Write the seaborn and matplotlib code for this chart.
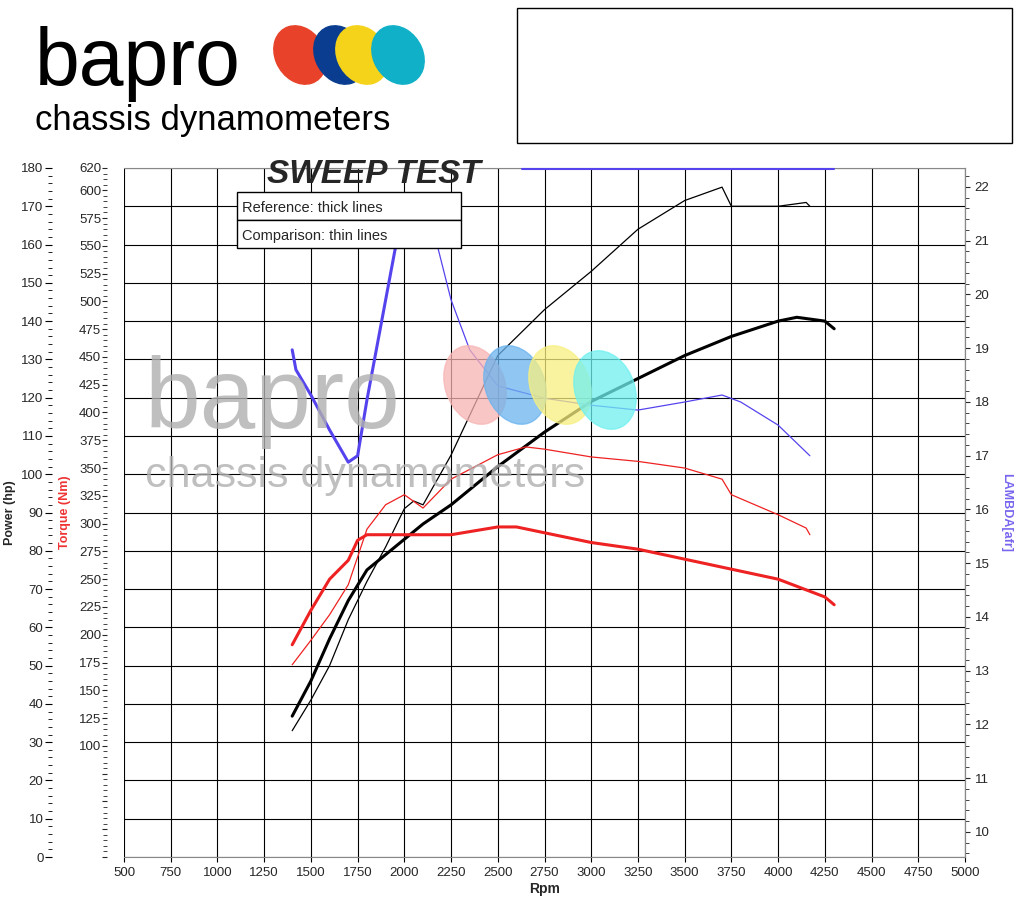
import pandas as pd
import seaborn as sns
import matplotlib.pyplot as plt
from matplotlib.ticker import MultipleLocator, FixedLocator
from matplotlib.patches import Ellipse, Rectangle

# thick = reference, thin = comparison
rpm_pw_ref = [1400, 1500, 1600, 1700, 1800, 1900, 2000, 2100, 2250, 2500, 2750, 3000, 3250, 3500, 3750, 4000, 4100, 4250, 4300]
hp_ref = [36.8, 46, 57, 67, 75, 79, 83, 87, 92, 102, 111, 119, 125, 131, 136, 140, 141, 140, 138]
rpm_pw_cmp = [1400, 1500, 1600, 1700, 1800, 1900, 2000, 2050, 2100, 2250, 2500, 2750, 3000, 3250, 3500, 3700, 3750, 4000, 4150, 4170]
hp_cmp = [33, 41, 50, 62, 72, 81, 91, 93, 92, 105, 131, 143, 153, 164, 171.5, 175, 170, 170, 171, 170]

rpm_tq_ref = [1400, 1500, 1600, 1700, 1750, 1800, 2000, 2250, 2500, 2600, 3000, 3250, 3500, 3750, 4000, 4250, 4300]
nm_ref = [191, 222, 250, 267, 285, 290, 290, 290, 297, 297, 283, 277, 268, 259, 250, 234, 227]
rpm_tq_cmp = [1400, 1500, 1600, 1700, 1800, 1900, 2000, 2100, 2250, 2500, 2650, 2750, 3000, 3250, 3500, 3700, 3750, 4000, 4150, 4170]
nm_cmp = [173, 195, 218, 245, 295, 317, 326, 314, 340, 362, 369, 367, 360, 356, 350, 340, 326, 308, 296, 290]

rpm_lam_ref = [1400, 1420, 1500, 1600, 1700, 1750, 1800, 1900, 1950, 2000]
lam_ref = [18.97, 18.6, 18.13, 17.48, 16.88, 17.0, 18.04, 19.9, 20.83, 21.5]
rpm_lam_cmp = [2170, 2250, 2350, 2500, 2750, 3000, 3250, 3500, 3700, 3800, 4000, 4170]
lam_cmp = [21.0, 19.9, 18.97, 18.3, 18.07, 17.94, 17.85, 18.0, 18.13, 18.0, 17.57, 17.0]

sns.set_style("white")
plt.rcParams['font.family'] = ['Liberation Sans', 'DejaVu Sans']

fig = plt.figure(figsize=(10.24, 9.06), dpi=100)
W, H = 1024, 906
ax = fig.add_axes([124/W, 1 - 857/H, (965-124)/W, (857-168)/H])
ax.set_xlim(500, 5000)
ax.set_ylim(0, 180)
ax.xaxis.set_major_locator(MultipleLocator(250))
ax.yaxis.set_major_locator(MultipleLocator(10))
ax.yaxis.set_minor_locator(MultipleLocator(2))
ax.grid(True, which='major', color='black', lw=0.8)
for s in ax.spines.values():
    s.set_color('#888888')
ax.spines['left'].set_position(('outward', 52))
ax.spines['left'].set_visible(False)
ax.tick_params(axis='both', which='both', direction='out', color='black', labelsize=9.5, left=True, bottom=True)
ax.tick_params(axis='y', which='major', length=5, pad=1)
ax.tick_params(axis='y', which='minor', length=3)
ax.set_xlabel('Rpm', fontsize=10, fontweight='bold', labelpad=2)
ax.set_ylabel('Power (hp)', fontsize=9, fontweight='bold', labelpad=4)

ax2 = ax.twinx()
ax2.yaxis.tick_left()
ax2.yaxis.set_label_position('left')
ax2.spines['left'].set_position(('outward', 12))
ax2.spines['left'].set_visible(False)
ax2.set_ylim(0, 620)
tq_ticks = list(range(0, 601, 25)) + [620]
ax2.yaxis.set_major_locator(FixedLocator(tq_ticks))
ax2.yaxis.set_minor_locator(MultipleLocator(5))
ax2.tick_params(axis='y', which='both', direction='out', labelsize=9.5, left=True, pad=1)
ax2.tick_params(axis='y', which='minor', length=3)
ax2.set_yticklabels(['' if v < 100 else str(v) for v in tq_ticks])
ax2.set_ylabel('Torque (Nm)', fontsize=9, fontweight='bold', color='#ee3333', labelpad=6)

ax3 = ax.twinx()
lo = 10 - 25/53.75
hi = 22 + 19/53.75
ax3.set_ylim(lo, hi)
ax3.yaxis.set_major_locator(MultipleLocator(1))
ax3.yaxis.set_minor_locator(MultipleLocator(0.2))
ax3.tick_params(axis='y', which='both', direction='out', labelsize=9.5, right=True)
ax3.tick_params(axis='y', which='minor', length=3)
ax3.set_ylabel('LAMBDA[afr]', fontsize=9, fontweight='bold', color='#7766ee', rotation=270, labelpad=16)
for a in (ax2, ax3):
    for s in a.spines.values():
        s.set_visible(False)
ax3.spines['right'].set_visible(True)
ax3.spines['right'].set_color('#888888')

# watermark
fig.text(145/W, 1-428/H, 'bapro', fontsize=72, color='#b0b0b0', alpha=0.8, zorder=0.4)
fig.text(145/W, 1-487/H, 'chassis dynamometers', fontsize=31, color='#b0b0b0', alpha=0.8, zorder=0.4)
for (cx, cy, c) in [(475, 385, '#f8b4b4'), (515, 385, '#6ab3ee'), (560, 385, '#f8f080'), (605, 390, '#6ff0f0')]:
    fig.patches.append(Ellipse((cx/W, 1-cy/H), 60/W, 80/H, angle=15, transform=fig.transFigure, color=c, alpha=0.75, zorder=0.5))
ax.patch.set_alpha(0)
ax2.patch.set_alpha(0)
ax3.patch.set_alpha(0)

sns.lineplot(x=rpm_pw_ref, y=hp_ref, ax=ax, color='black', lw=2.2, sort=False)
sns.lineplot(x=rpm_pw_cmp, y=hp_cmp, ax=ax, color='black', lw=0.9, sort=False)
sns.lineplot(x=rpm_tq_ref, y=nm_ref, ax=ax2, color='#ee2222', lw=2.2, sort=False)
sns.lineplot(x=rpm_tq_cmp, y=nm_cmp, ax=ax2, color='#ee2222', lw=0.9, sort=False)
sns.lineplot(x=rpm_lam_ref, y=lam_ref, ax=ax3, color='#5544ee', lw=2.2, sort=False)
sns.lineplot(x=rpm_lam_cmp, y=lam_cmp, ax=ax3, color='#5544ee', lw=0.9, sort=False)
ax3.plot([2630, 4300], [hi - 0.02, hi - 0.02], color='#5544ee', lw=1.5, clip_on=False)

ax.set_xticks(list(range(500, 5001, 250)))
ax3.set_xlim(500, 5000)

# legend box
for i, t in enumerate(['Reference: thick lines', 'Comparison: thin lines']):
    y0 = 192 + i*28
    fig.patches.append(Rectangle((237/W, 1-(y0+28)/H), 224/W, 28/H, transform=fig.transFigure,
                                 fc='white', ec='black', lw=1, zorder=5))
    fig.text(242/W, 1-(y0+20)/H, t, fontsize=10.5, zorder=6)

fig.text(267/W, 1-183/H, 'SWEEP TEST', fontsize=24, fontweight='bold', style='italic')

# header logo
fig.text(35/W, 1-85/H, 'bapro', fontsize=58, color='black')
fig.text(35/W, 1-130/H, 'chassis dynamometers', fontsize=25, color='black')
for (cx, cy, c) in [(300, 55, '#e8432a'), (340, 55, '#0a3d8f'), (362, 55, '#f5d31a'), (398, 55, '#10b0c8')]:
    fig.patches.append(Ellipse((cx/W, 1-cy/H), 50/W, 60/H, angle=20, transform=fig.transFigure, color=c))
fig.patches.append(Rectangle((517/W, 1-143/H), 495/W, 135/H, transform=fig.transFigure, fc='white', ec='black', lw=1))

fig.savefig('out.png', dpi=100)
